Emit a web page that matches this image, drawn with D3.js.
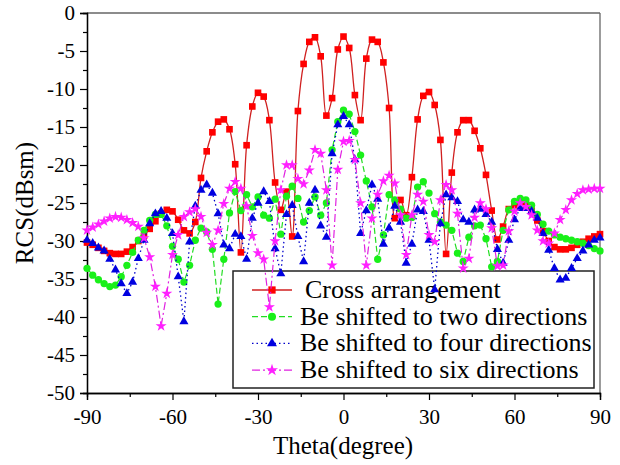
<!DOCTYPE html>
<html>
<head>
<meta charset="utf-8">
<script src="https://cdn.jsdelivr.net/npm/d3@7"></script>
<style>
body { margin: 0; background: #fff; }
text { font-family: "Liberation Serif", "Times New Roman", serif; fill: #000; }
</style>
</head>
<body>
<div id="plot"></div>
<script>
// angle grid (deg) and RCS values (dBsm)
var theta = [-90,-88,-86,-84,-82,-80,-78,-76,-74,-72,-70,-68,-66,-64,-62,-60,-58,-56,-54,-52,
  -50,-48,-46,-44,-42,-40,-38,-36,-34,-32,-30,-28,-26,-24,-22,-20,-18,-16,-14,-12,
  -10,-8,-6,-4,-2,0,2,4,6,8,10,12,14,16,18,20,22,24,26,28,30,32,34,36,38,40,
  42,44,46,48,50,52,54,56,58,60,62,64,66,68,70,72,74,76,78,80,82,84,86,88,90];

var cross = [-30.2,-30.5,-30.9,-31.3,-31.6,-31.7,-31.7,-31.4,-30.8,-30.0,
  -29.3,-28.4,-27.4,-26.4,-25.9,-26.1,-27.2,-28.6,-29.0,-27.5,
  -21.7,-18.2,-15.7,-14.3,-14.0,-15.3,-19.9,-31.5,-17.4,-12.3,
  -10.5,-11.0,-14.1,-22.3,-25.9,-23.5,-29.4,-12.9,-6.7,-3.8,
  -3.2,-5.7,-13.5,-11.2,-4.8,-3.1,-4.6,-10.8,-14.1,-6.0,-3.5,
  -3.8,-6.5,-12.5,-27.0,-24.6,-26.6,-21.6,-14.0,-10.9,-10.4,
  -12.1,-16.7,-31.7,-21.0,-15.7,-14.1,-14.1,-15.5,-17.8,-21.3,
  -26.0,-29.8,-28.1,-25.8,-25.3,-25.0,-25.2,-26.0,-27.3,-28.7,
  -30.0,-30.8,-31.1,-31.1,-30.9,-30.5,-30.1,-29.7,-29.4,-29.1];

var twoDir = [-33.6,-34.5,-35.1,-35.6,-36.0,-35.8,-34.7,-33.2,-31.5,-29.9,
  -28.6,-27.3,-26.5,-26.5,-28.0,-30.7,-32.4,-35.4,-33.2,-29.9,
  -28.3,-28.8,-31.1,-38.3,-32.4,-26.3,-23.5,-26.0,-23.9,-25.5,
  -24.2,-26.6,-27.0,-24.5,-29.1,-24.1,-22.8,-24.4,-27.5,-26.0,
  -24.2,-26.6,-25.0,-18.0,-14.3,-12.8,-13.3,-15.6,-18.7,-22.1,-25.5,
  -32.4,-29.2,-23.9,-24.6,-25.8,-27.0,-26.9,-22.9,-22.2,-23.7,
  -26.4,-27.5,-27.9,-28.6,-31.6,-32.7,-29.5,-28.0,-27.9,-29.7,
  -33.4,-32.7,-28.6,-25.9,-24.8,-24.4,-24.6,-25.3,-26.5,-27.8,
  -28.7,-29.2,-29.5,-29.7,-29.9,-30.1,-30.3,-30.6,-31.0,-31.3];

var fourDir = [-29.9,-30.3,-30.9,-31.3,-32.4,-33.8,-35.6,-36.9,-35.4,-32.3,
  -29.9,-27.7,-26.4,-26.1,-27.0,-29.0,-34.7,-40.6,-30.1,-25.4,
  -23.3,-22.6,-23.7,-26.4,-30.5,-31.0,-29.1,-29.4,-32.4,-27.0,
  -25.0,-23.5,-24.8,-31.0,-34.3,-26.5,-25.3,-29.4,-32.7,-25.0,
  -23.3,-28.0,-29.5,-18.5,-14.7,-13.6,-14.7,-19.3,-29.0,-26.0,-22.6,
  -24.5,-30.4,-28.3,-25.4,-27.5,-32.9,-30.4,-25.9,-26.1,-29.9,
  -36.4,-27.7,-23.9,-24.3,-24.8,-27.2,-27.5,-25.9,-25.8,-26.5,
  -27.5,-31.1,-32.9,-29.9,-27.2,-25.7,-25.7,-26.1,-27.0,-29.0,
  -31.2,-33.6,-35.1,-34.9,-33.6,-32.3,-31.3,-30.5,-29.9,-29.6];

var sixDir = [-28.6,-28.2,-27.8,-27.4,-27.0,-26.8,-26.9,-27.2,-27.6,-28.1,
  -29.6,-32.1,-36.0,-41.2,-36.9,-31.8,-29.2,-26.8,-26.2,-25.8,
  -26.8,-28.9,-30.5,-28.6,-25.1,-23.1,-22.2,-23.1,-25.4,-29.3,
  -31.6,-32.4,-38.7,-30.0,-23.3,-20.0,-20.0,-21.8,-22.5,-20.7,
  -18.0,-18.5,-23.3,-33.2,-20.6,-16.9,-16.8,-19.3,-25.0,-33.2,-27.0,
  -23.9,-22.1,-21.4,-22.4,-26.6,-31.8,-26.6,-23.9,-24.8,-29.2,
  -30.1,-24.6,-22.6,-23.3,-26.4,-33.6,-32.3,-26.9,-25.0,-25.8,
  -28.3,-33.3,-33.2,-28.7,-26.1,-25.0,-25.5,-26.6,-28.6,-30.0,
  -30.3,-29.0,-27.2,-25.9,-24.6,-23.8,-23.3,-23.2,-23.1,-23.1];

var legendNames = ["Cross arrangement", "Be shifted to two directions",
  "Be shifted to four directions", "Be shifted to six directions"];
var xTicks = [-90, -60, -30, 0, 30, 60, 90];
var yTicks = [0, -5, -10, -15, -20, -25, -30, -35, -40, -45, -50];

// plot bounds
var W = 620, H = 465;
var margin = {top: 13, right: 600, bottom: 393, left: 87};

var svg = d3.select("#plot").append("svg")
    .attr("width", W)
    .attr("height", H);

var x = d3.scaleLinear().domain([-90, 90]).range([margin.left, margin.right]);
var y = d3.scaleLinear().domain([-50, 0]).range([margin.bottom, margin.top]);

// frame
svg.append("line").attr("x1", margin.left).attr("x2", margin.right)
    .attr("y1", margin.top).attr("y2", margin.top)
    .attr("stroke", "#666").attr("stroke-width", 1.3);
svg.append("line").attr("x1", margin.right).attr("x2", margin.right)
    .attr("y1", margin.top).attr("y2", margin.bottom)
    .attr("stroke", "#666").attr("stroke-width", 1.3);

// axes: major + minor ticks
function styleAxis(g) {
  g.select(".domain").attr("stroke", "#000").attr("stroke-width", 1.3);
  g.selectAll(".tick line").attr("stroke", "#000").attr("stroke-width", 1.2);
  g.selectAll("text").attr("font-size", 21).attr("fill", "#000")
    .attr("font-family", "Liberation Serif, serif");
}
function fmt(d) { return d < 0 ? "-" + Math.abs(d) : d; }

var xMinor = svg.append("g").attr("transform", "translate(0," + margin.bottom + ")")
    .call(d3.axisBottom(x).tickValues([-75, -45, -15, 15, 45, 75]).tickSize(4).tickFormat(""));
styleAxis(xMinor);
var xAxis = svg.append("g").attr("transform", "translate(0," + margin.bottom + ")")
    .call(d3.axisBottom(x).tickValues(xTicks).tickSize(7).tickPadding(9).tickFormat(fmt));
styleAxis(xAxis);

var yMinor = svg.append("g").attr("transform", "translate(" + margin.left + ",0)")
    .call(d3.axisLeft(y).tickValues(yTicks.slice(0, -1).map(function(d) { return d - 2.5; }))
      .tickSize(4).tickFormat(""));
styleAxis(yMinor);
var yAxis = svg.append("g").attr("transform", "translate(" + margin.left + ",0)")
    .call(d3.axisLeft(y).tickValues(yTicks).tickSize(7).tickPadding(5).tickFormat(fmt));
styleAxis(yAxis);

// axis titles
svg.append("text")
    .attr("x", 343).attr("y", 454)
    .attr("text-anchor", "middle")
    .attr("font-size", 25)
    .text("Theta(degree)");

svg.append("text")
    .attr("transform", "translate(33," + ((margin.top + margin.bottom) / 2) + ") rotate(-90)")
    .attr("text-anchor", "middle")
    .attr("font-size", 25)
    .text("RCS(dBsm)");

// series definitions
var series = [
  { name: legendNames[0], values: cross, line: "#d02020", fill: "#ff0000", dash: null,
    symbol: d3.symbolSquare, size: 44, curve: d3.curveCatmullRom.alpha(0.5), width: 1.3 },
  { name: legendNames[1], values: twoDir, line: "#22dd22", fill: "#19f019", dash: "6,3",
    symbol: d3.symbolCircle, size: 42, curve: d3.curveLinear, width: 1.2 },
  { name: legendNames[2], values: fourDir, line: "#0000cc", fill: "#0000e0", dash: "1.5,3",
    symbol: d3.symbolTriangle, size: 36, curve: d3.curveLinear, width: 1.3 },
  { name: legendNames[3], values: sixDir, line: "#e020e0", fill: "#ff20ff", dash: "8,3,2,3",
    symbol: d3.symbolStar, size: 38, curve: d3.curveLinear, width: 1.2 }
];

// legend box (drawn under the data)
var lg = svg.append("g");
lg.append("rect")
    .attr("x", 233).attr("y", 271)
    .attr("width", 361).attr("height", 117)
    .attr("fill", "#fff")
    .attr("stroke", "#222")
    .attr("stroke-width", 1.5);

series.forEach(function(s, i) {
  var cy = 290 + i * 26.7;
  lg.append("line")
      .attr("x1", 252).attr("x2", 292).attr("y1", cy).attr("y2", cy)
      .attr("stroke", s.line).attr("stroke-width", s.width)
      .attr("stroke-dasharray", s.dash);
  lg.append("path")
      .attr("transform", "translate(272," + cy + ")")
      .attr("d", d3.symbol().type(s.symbol).size(s.size * 1.2)())
      .attr("fill", s.fill);
  lg.append("text")
      .attr("x", i === 0 ? 305 : 300).attr("y", cy + 8)
      .attr("font-size", 26)
      .text(s.name);
});

// lines and markers
series.forEach(function(s) {
  var pts = theta.map(function(t, i) { return [t, s.values[i]]; });
  var line = d3.line()
      .x(function(d) { return x(d[0]); })
      .y(function(d) { return y(d[1]); })
      .curve(s.curve);

  svg.append("path")
      .datum(pts)
      .attr("fill", "none")
      .attr("stroke", s.line)
      .attr("stroke-width", s.width)
      .attr("stroke-dasharray", s.dash)
      .attr("d", line);

  svg.selectAll(null)
      .data(pts)
      .enter().append("path")
      .attr("transform", function(d) { return "translate(" + x(d[0]) + "," + y(d[1]) + ")"; })
      .attr("d", d3.symbol().type(s.symbol).size(s.size)())
      .attr("fill", s.fill);
});
</script>
</body>
</html>
